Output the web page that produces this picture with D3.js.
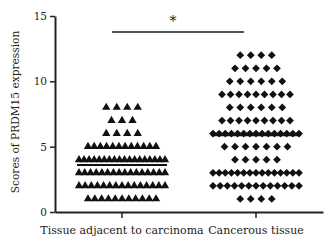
<!DOCTYPE html>
<html>
<head>
<meta charset="utf-8">
<script src="https://cdn.jsdelivr.net/npm/d3@7"></script>
<style>
  body { margin: 0; background: #fff; }
  text { font-family: "DejaVu Serif", serif; fill: #222; }
</style>
</head>
<body>
<div id="chart"></div>
<script>
// categories and tick labels
const groups = ["Tissue adjacent to carcinoma", "Cancerous tissue"];
const yTicks = [0, 5, 10, 15];

// score levels and how many samples sit on each level
const adjacentScores = [1, 2, 3, 4, 5, 6, 7, 8];
const adjacentCounts = [11, 15, 16, 18, 12, 4, 3, 4];
const cancerScores = [1, 2, 3, 4, 5, 6, 7, 8, 9, 10, 11, 12];
const cancerCounts = [4, 13, 15, 5, 7, 15, 9, 6, 9, 6, 5, 4];

const width = 331, height = 243;
const margin = { top: 16, right: 8, bottom: 31, left: 55 };

const svg = d3.select('#chart')
    .append('svg')
    .attr('width', width)
    .attr('height', height);

const x = d3.scaleBand()
    .domain(groups)
    .range([margin.left, width - margin.right]);

const y = d3.scaleLinear()
    .domain([0, 15])
    .range([height - margin.bottom, margin.top]);

// expand level counts into individual samples
function samples(scores, counts) {
    return scores.flatMap((s, i) => d3.range(counts[i]).map(() => s));
}
const adjacent = samples(adjacentScores, adjacentCounts);
const cancer = samples(cancerScores, cancerCounts);

// spread the points of one level sideways around the group centre
function rowWidth(n) {
    return Math.min((n - 1) * 10.5, n >= 13 ? 86 : 68);
}

function layout(scores, counts, group) {
    const pts = [];
    scores.forEach((s, i) => {
        const n = counts[i];
        const w = rowWidth(n);
        const px = d3.scalePoint().domain(d3.range(n)).range([-w / 2, w / 2]);
        d3.range(n).forEach(k => {
            pts.push({ x: x(group) + x.bandwidth() / 2 + (n > 1 ? px(k) : 0), y: y(s) });
        });
    });
    return pts;
}

const tri = d3.symbol().type(d3.symbolTriangle).size(30);
const dia = d3.symbol().type(d3.symbolSquare).size(30);

svg.append('g').selectAll('path')
    .data(layout(adjacentScores, adjacentCounts, groups[0]))
    .join('path')
    .attr('d', tri)
    .attr('transform', d => `translate(${d.x},${d.y})`)
    .attr('fill', '#111');

svg.append('g').selectAll('path')
    .data(layout(cancerScores, cancerCounts, groups[1]))
    .join('path')
    .attr('d', dia)
    .attr('transform', d => `translate(${d.x},${d.y}) rotate(45)`)
    .attr('fill', '#111');

// mean lines
const means = [d3.mean(adjacent), d3.mean(cancer)];
svg.append('g').selectAll('line')
    .data(means)
    .join('line')
    .attr('x1', (d, i) => x(groups[i]) + x.bandwidth() / 2 - 45)
    .attr('x2', (d, i) => x(groups[i]) + x.bandwidth() / 2 + 45)
    .attr('y1', d => y(d))
    .attr('y2', d => y(d))
    .attr('stroke', '#111')
    .attr('stroke-width', 2);

// axes
const yAxis = svg.append('g')
    .attr('transform', `translate(${margin.left},0)`)
    .call(d3.axisLeft(y).tickValues(yTicks).tickSize(5).tickPadding(3).tickSizeOuter(0));

const xAxis = svg.append('g')
    .attr('transform', `translate(0,${height - margin.bottom})`)
    .call(d3.axisBottom(x).tickSize(6).tickPadding(8).tickSizeOuter(0));

[yAxis, xAxis].forEach(a => {
    a.select('.domain').attr('stroke', '#222').attr('stroke-width', 2);
    a.selectAll('.tick line').attr('stroke', '#222').attr('stroke-width', 1.5);
});
yAxis.selectAll('text').attr('font-size', 10.5).style('font-family', '"DejaVu Serif", serif').attr('fill', '#222');
xAxis.selectAll('text').attr('font-size', 11).style('font-family', '"DejaVu Serif", serif').attr('fill', '#222');

// y title
svg.append('text')
    .attr('transform', `translate(19,${(y(0) + y(15)) / 2 - 2}) rotate(-90)`)
    .attr('text-anchor', 'middle')
    .attr('font-size', 10.6)
    .text('Scores of PRDM15 expression');

// significance bracket
const xa = x(groups[0]) + x.bandwidth() / 2;
const xb = x(groups[1]) + x.bandwidth() / 2;
svg.append('line')
    .attr('x1', xa - 10)
    .attr('x2', xb - 12)
    .attr('y1', y(13.78))
    .attr('y2', y(13.78))
    .attr('stroke', '#555')
    .attr('stroke-width', 2);
svg.append('text')
    .attr('x', (xa + xb) / 2 - 16)
    .attr('y', y(14.2))
    .attr('text-anchor', 'middle')
    .attr('font-size', 14)
    .attr('fill', '#444')
    .text('*');
</script>
</body>
</html>
